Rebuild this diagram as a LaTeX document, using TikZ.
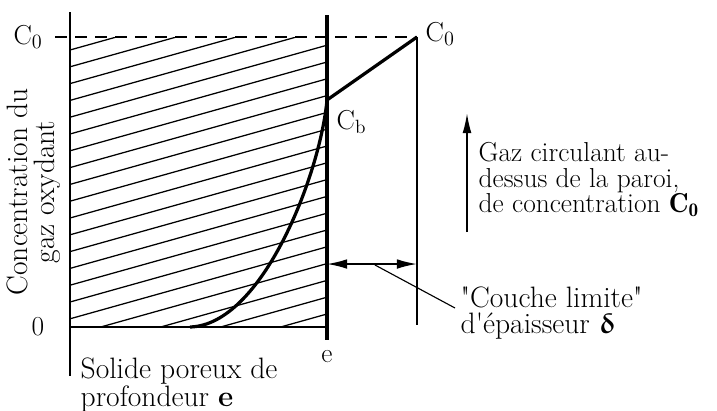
\documentclass[tikz,border=0pt]{standalone}
\usepackage{amsmath,amssymb}
\usepackage{upgreek}
\usepackage{bm}
\usepackage{fontspec}
\usetikzlibrary{arrows.meta,positioning}
\tikzset{
  lbl/.style={font=\fontsize{19.5}{18}\selectfont, inner sep=1pt},
  biglbl/.style={font=\fontsize{21}{19}\selectfont, inner sep=1pt},
  hatch/.style={line width=0.9pt},
  wall/.style={line width=1.8pt},
  profil/.style={line width=2.3pt},
  tip/.style={-{Latex[length=5mm,width=2.2mm]}},
}

\begin{document}
\begin{tikzpicture}[x=0.025cm,y=-0.025cm]
  \useasboundingbox (0,0) rectangle (717,410);

  % reperes
  \coordinate (axT) at (70,12);
  \coordinate (axB) at (70,376);
  \coordinate (orig) at (70,327);
  \coordinate (eT) at (327,15);
  \coordinate (eB) at (327,340);
  \coordinate (eO) at (327,327);
  \coordinate (dL) at (55,37);
  \coordinate (c0) at (417,37);
  \coordinate (dB) at (417,325);
  \coordinate (cb) at (327,100);
  \coordinate (cs) at (190,327);
  \coordinate (dlA) at (327,264);
  \coordinate (dlB) at (417,264);
  \coordinate (lead) at (375,265);
  \coordinate (leadE) at (455,308);
  \coordinate (gzB) at (467,232);
  \coordinate (gzT) at (467,113);

  % hachures du solide poreux
  \begin{scope}
    \clip (70,37) rectangle (327,327);
    \foreach \k in {0,...,20}
      \draw[hatch] (70,{50+16.8*\k}) -- ++(257,-72);
  \end{scope}

  % axes et parois
  \draw[wall] (axT) -- (axB);
  \draw[wall] (orig) -- (eO);
  \draw[line width=2.4pt] (eT) -- (eB);
  \draw[line width=1.2pt] (c0) -- (dB);
  \draw[line width=1.4pt, dash pattern=on 0.3cm off 0.2cm] (dL) -- (c0);

  % profil de concentration
  \draw[profil] (cs) .. controls (262,325) and (320,175) .. (cb);
  \draw[profil] (cb) -- (c0);

  % couche limite
  \draw[line width=1.2pt, {Latex[length=5mm,width=2.4mm]}-{Latex[length=5mm,width=2.4mm]}] (dlA) -- (dlB);
  \draw[line width=0.8pt] (lead) -- (leadE);
  \draw[line width=1.2pt, tip] (gzB) -- (gzT);

  % textes
  \node[lbl] (czL) at (28,37) {C$_0$};
  \node[lbl, anchor=west] (czR) at (424,34) {C$_0$};
  \node[lbl, anchor=west] (cbL) at (335,122) {C$_\mathrm{b}$};
  \node[lbl] (zero) at (38,327) {0};
  \node[lbl] (eLbl) at (327,357) {e};
  \node[biglbl, rotate=90, align=center] (conc) at (34,192) {Concentration du\\gaz oxydant};
  \node[biglbl, font=\fontsize{21}{20}\selectfont, anchor=west, align=left] (solide) at (79,385) {Solide poreux de\\profondeur \textbf{e}};
  \node[lbl, anchor=west, align=left] (gaz) at (477,180) {Gaz circulant au-\\dessus de la paroi,\\de concentration $\mathbf{C_0}$};
  \node[biglbl, anchor=west, align=left] (couche) at (459,313) {\textquotedbl Couche limite\textquotedbl\\d\textquotesingle épaisseur $\bm{\updelta}$};
\end{tikzpicture}
\end{document}
